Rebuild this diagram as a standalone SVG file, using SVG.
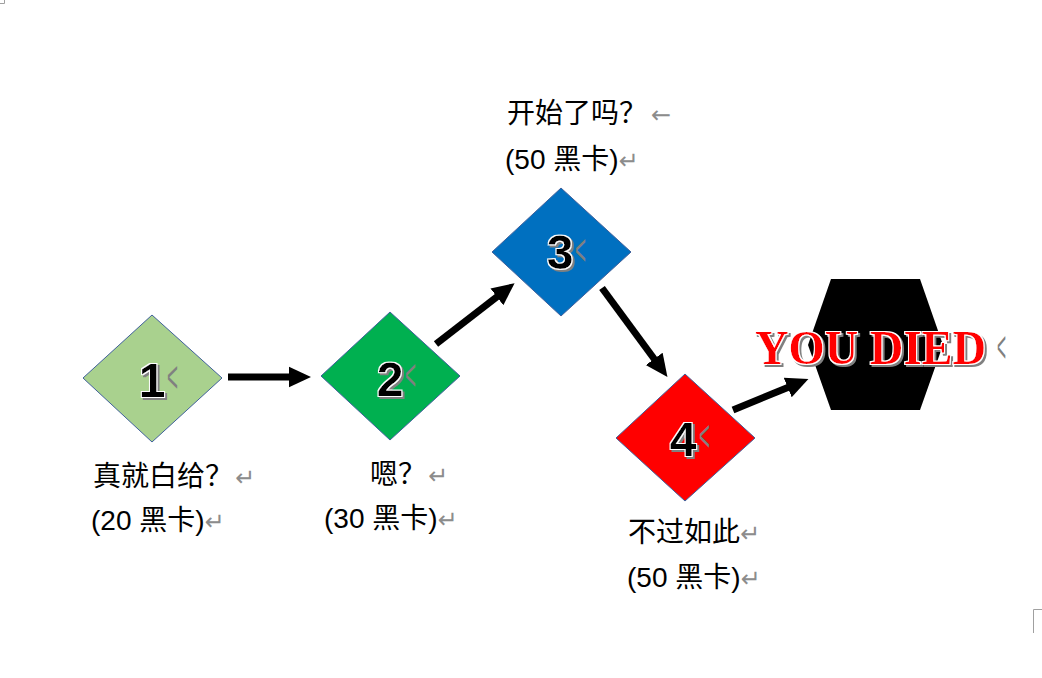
<svg xmlns="http://www.w3.org/2000/svg" width="1042" height="678" viewBox="0 0 1042 678">
<style>
.d{stroke:#41619C;stroke-width:1}
.num{font-family:"Liberation Sans",Arial,sans-serif;font-weight:bold;font-size:48px;text-anchor:middle;fill:#000;filter:url(#outl)}
.pm{font-family:"DejaVu Sans",sans-serif;fill:#8c8c8c;font-size:24px}
.pa{font-family:"Liberation Sans",Arial,sans-serif;fill:#808080;font-size:44px}
.lbl{font-family:"Liberation Sans","Noto Sans CJK SC",sans-serif;font-size:28px;fill:#000}
.cn{font-family:"Noto Sans CJK SC",sans-serif;font-size:28px}
.yd{font-family:"Liberation Serif","Times New Roman",serif;font-weight:bold;font-size:49px;fill:#FF0000;filter:url(#outl)}
.conn{stroke:#000;stroke-width:7;fill:none}
</style>
<defs>
<marker id="ah" markerWidth="4" markerHeight="4" refX="0.2" refY="2" orient="auto" markerUnits="strokeWidth" viewBox="0 0 4 4">
<path d="M0,0.5 L3.2,2 L0,3.5 Z" fill="#000"/>
</marker>
<filter id="outl" x="-20%" y="-20%" width="140%" height="140%">
<feMorphology in="SourceAlpha" operator="dilate" radius="1.3" result="dil"/>
<feFlood flood-color="#ffffff" result="wh"/>
<feComposite in="wh" in2="dil" operator="in" result="white"/>
<feOffset in="dil" dx="2" dy="2" result="off"/>
<feFlood flood-color="#808080" result="gr"/>
<feComposite in="gr" in2="off" operator="in" result="shadow"/>
<feMerge>
<feMergeNode in="shadow"/>
<feMergeNode in="white"/>
<feMergeNode in="SourceGraphic"/>
</feMerge>
</filter>
</defs>
<g id="corners" stroke="#a0a0a0" stroke-width="1" fill="none">
<path d="M0,3.5 H4.5 V0"/>
<path d="M1033.5,633 V609.5 H1042"/>
</g>
<g id="connectors">
<line class="conn" x1="228" y1="377" x2="290" y2="377" marker-end="url(#ah)"/>
<line class="conn" x1="436" y1="344" x2="498" y2="296" marker-end="url(#ah)"/>
<line class="conn" x1="602" y1="288" x2="655" y2="360" marker-end="url(#ah)"/>
<line class="conn" x1="733" y1="410" x2="789" y2="387" marker-end="url(#ah)"/>
</g>
<g id="node1">
<polygon class="d" fill="#A9D18E" points="152,315 222,378 152,442 83,378"/>
<text class="num" x="152" y="397">1</text>
<text class="pa" x="167" y="392" textLength="11" lengthAdjust="spacingAndGlyphs">&lt;</text>
</g>
<g id="node2">
<polygon class="d" fill="#00B050" points="390,312 460,376 390,440 321,376"/>
<text class="num" x="390" y="396">2</text>
<text class="pa" x="405" y="390" textLength="11" lengthAdjust="spacingAndGlyphs">&lt;</text>
</g>
<g id="node3">
<polygon class="d" fill="#0070C0" points="561,188 631,252 561,316 492,252"/>
<text class="num" x="560" y="269">3</text>
<text class="pa" x="575" y="265" textLength="11" lengthAdjust="spacingAndGlyphs">&lt;</text>
</g>
<g id="node4">
<polygon class="d" fill="#FF0000" points="685,374 755,438 685,501 616,438"/>
<text class="num" x="683" y="456">4</text>
<text class="pa" x="699" y="451" textLength="11" lengthAdjust="spacingAndGlyphs">&lt;</text>
</g>
<g id="node5">
<polygon fill="#000" points="831,279 920,279 943,345 920,410 831,410 808,345"/>
<text class="yd" x="755" y="364" textLength="231" lengthAdjust="spacingAndGlyphs">YOU DIED</text>
<text class="pa" x="997" y="362" textLength="9" lengthAdjust="spacingAndGlyphs">&lt;</text>
</g>
<g id="label1">
<text class="lbl" x="93" y="486"><tspan class="cn">真就白给？</tspan><tspan class="pm" dx="2">↵</tspan></text>
<text class="lbl" x="91" y="530">(20 <tspan class="cn">黑卡</tspan>)<tspan class="pm">↵</tspan></text>
</g>
<g id="label2">
<text class="lbl" x="370" y="484"><tspan class="cn">嗯？</tspan><tspan class="pm" dx="2">↵</tspan></text>
<text class="lbl" x="324" y="528">(30 <tspan class="cn">黑卡</tspan>)<tspan class="pm">↵</tspan></text>
</g>
<g id="label3">
<text class="lbl" x="507" y="123"><tspan class="cn">开始了吗？</tspan><tspan class="pm" font-size="20" dx="4">←</tspan></text>
<text class="lbl" x="505" y="169">(50 <tspan class="cn">黑卡</tspan>)<tspan class="pm">↵</tspan></text>
</g>
<g id="label4">
<text class="lbl" x="628" y="542"><tspan class="cn">不过如此</tspan><tspan class="pm">↵</tspan></text>
<text class="lbl" x="627" y="587">(50 <tspan class="cn">黑卡</tspan>)<tspan class="pm">↵</tspan></text>
</g>
</svg>
